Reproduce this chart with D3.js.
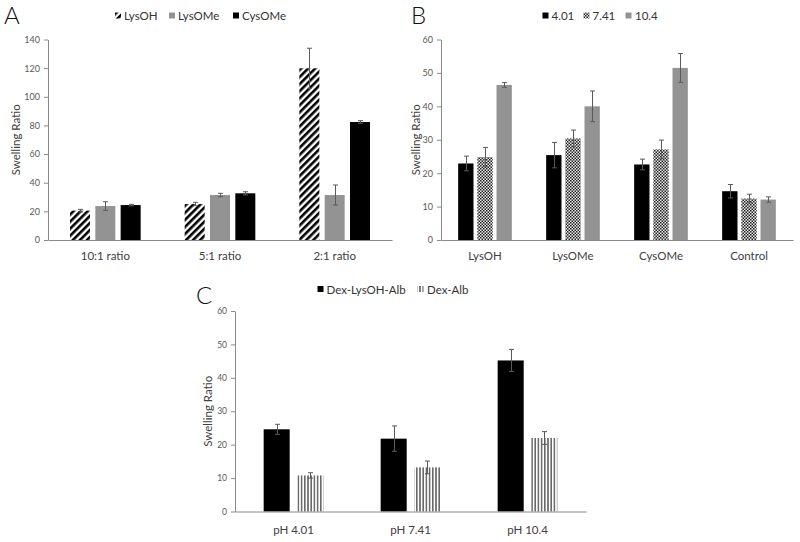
<!DOCTYPE html>
<html><head><meta charset="utf-8">
<script src="https://cdn.jsdelivr.net/npm/d3@7"></script>
<style>body{margin:0;background:#fff} svg{display:block;font-family:Lato,"Open Sans",sans-serif}</style>
</head><body><svg id="chart" width="800" height="542"></svg>
<script>
// ---------- Panel A data ----------
const ratioCategories = ["10:1 ratio", "5:1 ratio", "2:1 ratio"];
const crosslinkerSeries = ["LysOH", "LysOMe", "CysOMe"];
const lysOHRatio = [20.5, 25.1, 119.9];
const lysOHRatioErr = [0.9, 1.2, 14.0];
const lysOMeRatio = [23.7, 31.4, 31.4];
const lysOMeRatioErr = [3.0, 1.2, 7.0];
const cysOMeRatio = [24.4, 32.6, 82.4];
const cysOMeRatioErr = [0.5, 1.1, 0.9];
const ratioTicks = [0, 20, 40, 60, 80, 100, 120, 140];

// ---------- Panel B data ----------
const hydrogelCategories = ["LysOH", "LysOMe", "CysOMe", "Control"];
const phSeries = ["4.01", "7.41", "10.4"];
const ph401 = [22.9, 25.4, 22.6, 14.6];
const ph401Err = [2.2, 3.8, 1.6, 2.0];
const ph741 = [24.8, 30.4, 27.1, 12.4];
const ph741Err = [2.9, 2.5, 2.8, 1.3];
const ph104 = [46.4, 40.0, 51.5, 12.1];
const ph104Err = [0.7, 4.6, 4.3, 0.8];
const phTicks = [0, 10, 20, 30, 40, 50, 60];

// ---------- Panel C data ----------
const phCategories = ["pH 4.01", "pH 7.41", "pH 10.4"];
const albSeries = ["Dex-LysOH-Alb", "Dex-Alb"];
const dexLysOHAlb = [24.6, 21.8, 45.2];
const dexLysOHAlbErr = [1.5, 3.8, 3.3];
const dexAlb = [10.8, 13.2, 22.0];
const dexAlbErr = [0.8, 1.9, 1.9];
const albTicks = [0, 10, 20, 30, 40, 50, 60];

const yTitle = "Swelling Ratio";

const svg = d3.select("#chart");
svg.append("rect").attr("width", 800).attr("height", 542).attr("fill", "#fff");

// ---------- patterns ----------
const defs = svg.append("defs");
const hatch = defs.append("pattern").attr("id", "hatch").attr("patternUnits", "userSpaceOnUse")
  .attr("width", 5).attr("height", 5).attr("patternTransform", "rotate(45)");
hatch.append("rect").attr("width", 5).attr("height", 5).attr("fill", "#fff");
hatch.append("rect").attr("width", 2.6).attr("height", 5).attr("fill", "#000");

const checker = defs.append("pattern").attr("id", "checker").attr("patternUnits", "userSpaceOnUse")
  .attr("width", 3).attr("height", 3);
checker.append("rect").attr("width", 3).attr("height", 3).attr("fill", "#e8e8e8");
checker.append("rect").attr("width", 1.5).attr("height", 1.5).attr("fill", "#222");
checker.append("rect").attr("x", 1.5).attr("y", 1.5).attr("width", 1.5).attr("height", 1.5).attr("fill", "#222");

const vstripe = defs.append("pattern").attr("id", "vstripe").attr("patternUnits", "userSpaceOnUse")
  .attr("width", 3.2).attr("height", 4);
vstripe.append("rect").attr("width", 3.2).attr("height", 4).attr("fill", "#fff");
vstripe.append("rect").attr("width", 1.6).attr("height", 4).attr("fill", "#6a6a6a");

const panels = [
  {
    letter: "A", letterX: 4, letterY: 24,
    cats: ratioCategories, ticks: ratioTicks, yMax: 140,
    x0: 48, x1: 392, yTop: 39.5, yBottom: 240,
    outerPad: 0.384, innerPad: 0.21,
    titleX: 15, catPad: 12, tickFont: 9,
    series: [
      { name: crosslinkerSeries[0], values: lysOHRatio, errors: lysOHRatioErr, fill: "url(#hatch)" },
      { name: crosslinkerSeries[1], values: lysOMeRatio, errors: lysOMeRatioErr, fill: "#939393" },
      { name: crosslinkerSeries[2], values: cysOMeRatio, errors: cysOMeRatioErr, fill: "#000" }
    ],
    legendY: 15.5, legendIconX: [115, 169, 233], legendTextX: [124, 178, 242]
  },
  {
    letter: "B", letterX: 411, letterY: 24,
    cats: hydrogelCategories, ticks: phTicks, yMax: 60,
    x0: 441, x1: 793, yTop: 39.5, yBottom: 240,
    outerPad: 0.39, innerPad: 0.2,
    titleX: 415, catPad: 12, tickFont: 9,
    series: [
      { name: phSeries[0], values: ph401, errors: ph401Err, fill: "#000" },
      { name: phSeries[1], values: ph741, errors: ph741Err, fill: "url(#checker)" },
      { name: phSeries[2], values: ph104, errors: ph104Err, fill: "#939393" }
    ],
    legendY: 15.5, legendIconX: [542.5, 583.5, 625.5], legendTextX: [551.5, 592.5, 635]
  },
  {
    letter: "C", letterX: 196, letterY: 304,
    cats: phCategories, ticks: albTicks, yMax: 60,
    x0: 235, x1: 586, yTop: 311, yBottom: 511.5,
    outerPad: 0.49, innerPad: 0.226,
    titleX: 207, catPad: 14, tickFont: 8.5,
    series: [
      { name: albSeries[0], values: dexLysOHAlb, errors: dexLysOHAlbErr, fill: "#000" },
      { name: albSeries[1], values: dexAlb, errors: dexAlbErr, fill: "url(#vstripe)" }
    ],
    legendY: 289, legendIconX: [317.5, 417.5], legendTextX: [326.5, 427]
  }
];

const axisColor = "#8a8a8a";
const textColor = "#404040";

panels.forEach(p => {
  const g = svg.append("g");
  const x = d3.scaleBand().domain(p.cats).range([p.x0, p.x1])
    .paddingInner(p.outerPad).paddingOuter(p.outerPad / 2);
  const xi = d3.scaleBand().domain(p.series.map(s => s.name)).range([0, x.bandwidth()])
    .paddingInner(p.innerPad);
  const y = d3.scaleLinear().domain([0, p.yMax]).range([p.yBottom, p.yTop]);

  // bars
  p.series.forEach(s => {
    const sg = g.append("g");
    sg.selectAll("rect").data(p.cats).join("rect")
      .attr("x", (c) => x(c) + xi(s.name))
      .attr("width", xi.bandwidth())
      .attr("y", (c, i) => y(s.values[i]))
      .attr("height", (c, i) => y(0) - y(s.values[i]))
      .attr("fill", s.fill);
  });
  // error bars
  p.series.forEach(s => {
    const eg = g.append("g").attr("stroke", "#5a5a5a").attr("stroke-width", 1).attr("fill", "none");
    p.cats.forEach((c, i) => {
      const cx = Math.round(x(c) + xi(s.name) + xi.bandwidth() / 2) + 0.5;
      const hi = y(s.values[i] + s.errors[i]);
      const lo = y(s.values[i] - s.errors[i]);
      eg.append("line").attr("x1", cx).attr("x2", cx).attr("y1", hi).attr("y2", lo);
      eg.append("line").attr("x1", cx - 2.5).attr("x2", cx + 2.5).attr("y1", hi).attr("y2", hi);
      eg.append("line").attr("x1", cx - 2.5).attr("x2", cx + 2.5).attr("y1", lo).attr("y2", lo);
    });
  });

  // y axis
  const ya = g.append("g").attr("transform", `translate(${p.x0},0)`)
    .call(d3.axisLeft(y).tickValues(p.ticks).tickSize(4).tickSizeOuter(0).tickPadding(4));
  ya.select(".domain").attr("stroke", axisColor);
  ya.selectAll(".tick line").attr("stroke", axisColor);
  ya.selectAll(".tick text").attr("fill", "#595959").style("font-size", p.tickFont + "px")
    .style("font-family", "Lato, 'Open Sans', sans-serif");

  // x axis
  const xa = g.append("g").attr("transform", `translate(0,${p.yBottom})`)
    .call(d3.axisBottom(x).tickSize(0).tickSizeOuter(0).tickPadding(p.catPad));
  xa.select(".domain").attr("stroke", axisColor);
  xa.selectAll(".tick text").attr("fill", textColor).style("font-size", "11.5px")
    .style("font-family", "Lato, 'Open Sans', sans-serif");

  // y title
  g.append("text")
    .attr("transform", `translate(${p.titleX},${(p.yTop + p.yBottom) / 2}) rotate(-90)`)
    .attr("text-anchor", "middle").attr("dominant-baseline", "central")
    .attr("fill", textColor).style("font-size", "11.5px").text(yTitle);

  // panel letter
  g.append("text").attr("x", p.letterX).attr("y", p.letterY)
    .attr("fill", "#111").style("font-size", "24px").style("font-weight", 300).text(p.letter);

  // legend
  p.series.forEach((s, i) => {
    g.append("rect").attr("x", p.legendIconX[i]).attr("y", p.legendY - 3)
      .attr("width", 6).attr("height", 6).attr("fill", s.fill);
    g.append("text").attr("x", p.legendTextX[i]).attr("y", p.legendY)
      .attr("dominant-baseline", "central").attr("fill", "#333")
      .style("font-size", "11.5px").text(s.name);
  });
});
</script></body></html>
